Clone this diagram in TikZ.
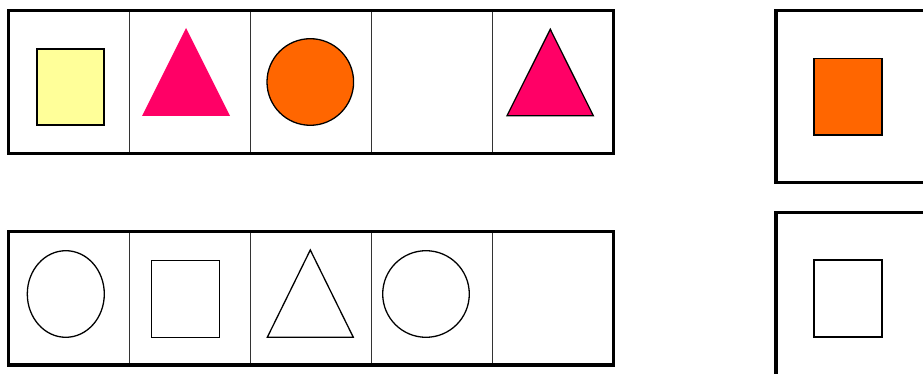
\documentclass[tikz,border=0pt]{standalone}
\usepackage{tikz}

\definecolor{paleyellow}{HTML}{FFFF99}
\definecolor{hotpink}{HTML}{FF0066}
\definecolor{deeporange}{HTML}{FF6600}

\begin{document}
\begin{tikzpicture}[
    x=0.03cm, y=-0.03cm,
    frame/.style={draw=black, line width=3.3pt},
    divider/.style={draw=black!80, line width=1.6pt},
    figline/.style={draw=black, line width=1.1pt},
    figfill/.style={figline, fill=#1},
  ]
  \clip (0,0) rectangle (923,374);
  \fill[white] (0,0) rectangle (923,374);

  % top row of five cells
  \draw[divider] (129.5,10.5) -- (129.5,153.5);
  \draw[divider] (250.5,10.5) -- (250.5,153.5);
  \draw[divider] (371.5,10.5) -- (371.5,153.5);
  \draw[divider] (492.5,10.5) -- (492.5,153.5);
  \draw[frame] (8.5,10.5) rectangle (613.5,153.5);

  \draw[figfill=paleyellow] (37,49) rectangle (104,125);
  \fill[hotpink] (186,28) -- (230,116) -- (142,116) -- cycle;
  \draw[figfill=deeporange] (310.3,82) circle[radius=43.3];
  \draw[figfill=hotpink] (550.3,29.3) -- (593.3,115.7) -- (507,115.7) -- cycle;

  % bottom row of five cells
  \draw[divider] (129.5,231.5) -- (129.5,365);
  \draw[divider] (250.5,231.5) -- (250.5,365);
  \draw[divider] (371.5,231.5) -- (371.5,365);
  \draw[divider] (492.5,231.5) -- (492.5,365);
  \draw[frame] (8.5,231.5) rectangle (613.5,365);

  \draw[figline] (65.8,294) ellipse[x radius=38.5, y radius=43.3];
  \draw[figline] (151.7,260.3) rectangle (219.7,337.3);
  \draw[figline] (310.3,250) -- (353.3,337.3) -- (267.3,337.3) -- cycle;
  \draw[figline] (426,294) circle[radius=43.3];

  % answer boxes on the right
  \draw[frame] (776,10.5) rectangle (960,182.5);
  \draw[figfill=deeporange] (814,58.3) rectangle (882,135);

  \draw[frame] (776,212.5) rectangle (960,376);
  \draw[figfill=white] (814,260) rectangle (882,337);
\end{tikzpicture}
\end{document}
